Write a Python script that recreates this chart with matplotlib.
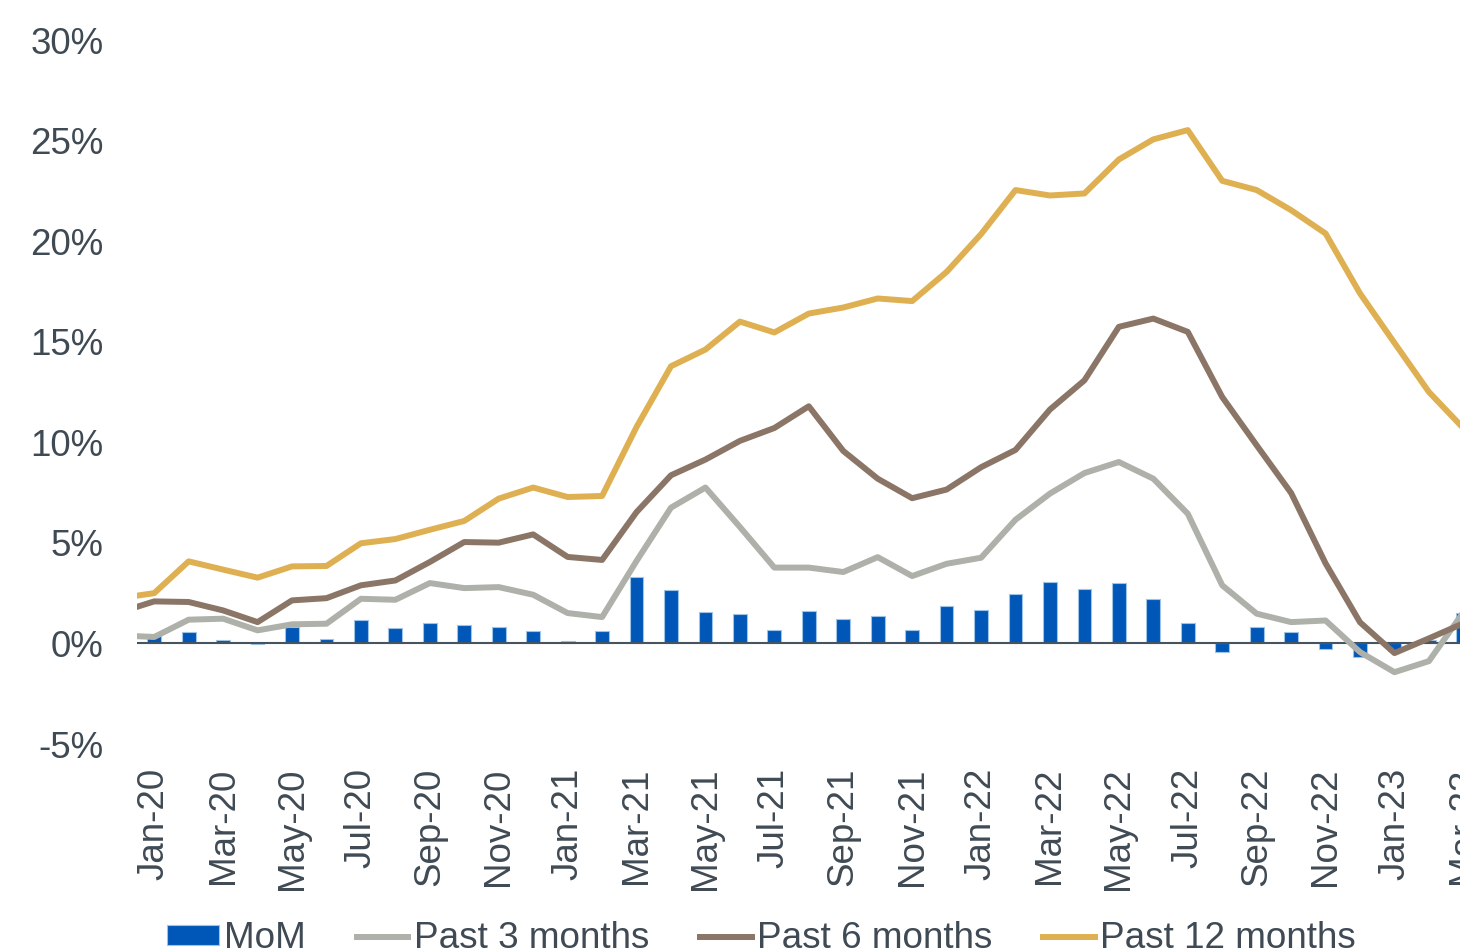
import numpy as np
import pandas as pd
import matplotlib
matplotlib.use("Agg")
import matplotlib.pyplot as plt

# Monthly data, Dec-19 .. Mar-23 (Dec-19 sits just outside the plot area)
months = pd.date_range("2019-12-01", periods=40, freq="MS").strftime("%b-%y").tolist()

mom = [np.nan, 0.45, 0.56, 0.16, -0.05, 0.80, 0.20, 1.16, 0.78, 1.00, 0.93, 0.83, 0.60,
       0.12, 0.62, 3.30, 2.65, 1.58, 1.44, 0.65, 1.61, 1.23, 1.38, 0.68, 1.84,
       1.66, 2.45, 3.05, 2.72, 3.00, 2.22, 1.04, -0.43, 0.81, 0.58, -0.30, -0.68,
       -0.40, 0.15, 1.50]
past_3m = [0.40, 0.32, 1.18, 1.23, 0.65, 0.95, 0.98, 2.22, 2.17, 3.00, 2.75, 2.80, 2.42,
           1.51, 1.31, 4.10, 6.75, 7.75, 5.79, 3.77, 3.77, 3.55, 4.29, 3.35, 3.96,
           4.26, 6.15, 7.45, 8.47, 9.02, 8.19, 6.45, 2.89, 1.48, 1.06, 1.14, -0.43,
           -1.43, -0.88, 1.55]
past_6m = [1.55, 2.09, 2.06, 1.64, 1.06, 2.14, 2.25, 2.89, 3.13, 4.05, 5.04, 5.01, 5.42,
           4.30, 4.15, 6.53, 8.36, 9.14, 10.07, 10.71, 11.79, 9.57, 8.19, 7.22, 7.65,
           8.76, 9.62, 11.63, 13.08, 15.74, 16.15, 15.49, 12.25, 9.85, 7.48, 3.98, 1.05,
           -0.48, 0.25, 1.00]
past_12m = [2.25, 2.50, 4.08, 3.67, 3.27, 3.83, 3.85, 4.98, 5.19, 5.65, 6.09, 7.20, 7.75,
            7.28, 7.33, 10.76, 13.78, 14.61, 16.00, 15.46, 16.40, 16.70, 17.15, 17.02, 18.47,
            20.35, 22.54, 22.27, 22.37, 24.06, 25.06, 25.52, 23.00, 22.54, 21.54, 20.38, 17.40,
            14.94, 12.50, 10.70]

yticks = [-5, 0, 5, 10, 15, 20, 25, 30]

TXT = "#3f4a54"
plt.rcParams["font.family"] = ["Liberation Sans", "DejaVu Sans"]

fig = plt.figure(figsize=(14.6, 9.51), dpi=100)
ax = fig.add_axes([137 / 1460, 207 / 951, 1343.6 / 1460, 704 / 951])

x = np.arange(len(months)) - 1  # Jan-20 -> 0

bars = ax.bar(x, mom, width=0.4, color="#0057b8", edgecolor="#9dc3e6", linewidth=0.8,
              label="MoM", zorder=2)
l3, = ax.plot(x, past_3m, color="#aeb0aa", lw=4.3, label="Past 3 months", zorder=3)
l6, = ax.plot(x, past_6m, color="#8a7566", lw=4.3, label="Past 6 months", zorder=4)
l12, = ax.plot(x, past_12m, color="#dfb052", lw=4.3, label="Past 12 months", zorder=5)
ax.axhline(0, color="#46545f", lw=1.5, zorder=2.5)

ax.set_xlim(-0.5, 38.5)
ax.set_ylim(-5, 30)
ax.set_yticks(yticks)
ax.set_yticklabels([f"{v}%" for v in yticks])
ax.set_xticks(x[1::2])
ax.set_xticklabels(months[1::2], rotation=90)
ax.tick_params(axis="y", length=0, pad=24, labelsize=26.5, labelcolor=TXT)
ax.tick_params(axis="x", length=0, pad=17, labelsize=26.5, labelcolor=TXT)
for s in ax.spines.values():
    s.set_visible(False)

fig.legend(handles=[bars, l3, l6, l12], loc="center left",
           bbox_to_anchor=(167 / 1460, 12 / 951), ncol=4,
           frameon=False, fontsize=26.6, labelcolor=TXT, borderpad=0, borderaxespad=0,
           handlelength=1.4, handleheight=0.46, handletextpad=0.14, columnspacing=1.38)

fig.savefig("out.png", dpi=100)
